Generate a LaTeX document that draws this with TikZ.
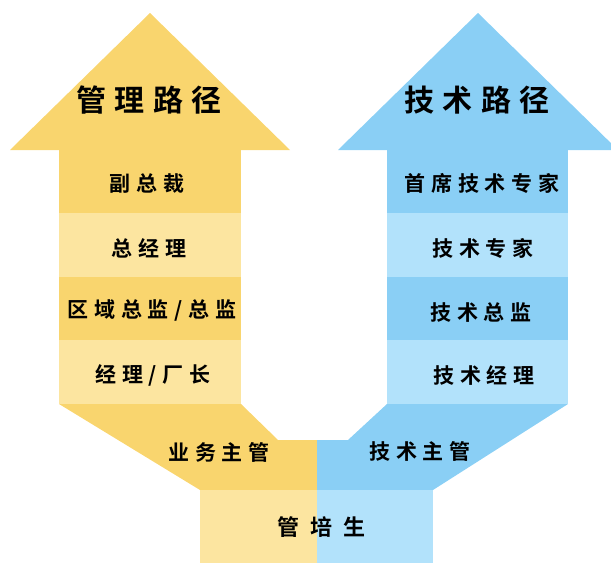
\documentclass[tikz,border=0pt]{standalone}
\usepackage{fontspec}
\newfontfamily\cjk{Noto Sans CJK SC Bold}[LetterSpace=28]
\newfontfamily\cjkwide{Noto Sans CJK SC Bold}[LetterSpace=50]
\definecolor{ydark}{RGB}{249,213,110}
\definecolor{ylight}{RGB}{252,229,160}
\definecolor{bdark}{RGB}{138,207,245}
\definecolor{blight}{RGB}{178,226,251}
\tikzset{
  title/.style={font=\cjk\fontsize{30}{30}\selectfont, inner sep=0pt, anchor=center},
  lbl/.style={font=\cjk\fontsize{21}{21}\selectfont, inner sep=0pt, anchor=center},
  rootlbl/.style={font=\cjkwide\fontsize{22}{22}\selectfont, inner sep=0pt, anchor=center}
}
\begin{document}
\begin{tikzpicture}[x=1pt,y=-1pt]
\useasboundingbox (0,0) rectangle (611,563);
% left (management) arrow
\fill[ydark] (10,150) -- (150,13) -- (290,150) -- cycle;
\fill[ydark] (59,149) rectangle (241,213);
\fill[ylight] (59,213) rectangle (241,277);
\fill[ydark] (59,277) rectangle (241,340);
\fill[ylight] (59,340) rectangle (241,404);
\fill[ydark] (59,404) -- (241,404) -- (278,440) -- (317,440) -- (317,490) -- (200,490) -- cycle;
\fill[ylight] (200,490) rectangle (317,563);
% right (technical) arrow
\fill[bdark] (338,150) -- (478,13) -- (618,150) -- cycle;
\fill[bdark] (387,149) rectangle (568,213);
\fill[blight] (387,213) rectangle (568,277);
\fill[bdark] (387,277) rectangle (568,340);
\fill[blight] (387,340) rectangle (568,404);
\fill[bdark] (387,404) -- (568,404) -- (433,490) -- (317,490) -- (317,440) -- (348,440) -- cycle;
\fill[blight] (317,490) rectangle (433,563);
% texts
\node[title] (mgmt) at (149,100) {管理路径};
\node[title] (tech) at (477,100) {技术路径};
\node[lbl] (m1) at (147,183) {副总裁};
\node[lbl] (m2) at (149,248) {总经理};
\node[lbl] (m3) at (152,310) {区域总监/总监};
\node[lbl] (m4) at (153,375) {经理/厂长};
\node[lbl] (m5) at (219,452) {业务主管};
\node[lbl] (t1) at (482,183) {首席技术专家};
\node[lbl] (t2) at (483,248) {技术专家};
\node[lbl] (t3) at (481,312) {技术总监};
\node[lbl] (t4) at (484,375) {技术经理};
\node[lbl] (t5) at (420,451) {技术主管};
\node[rootlbl] (root) at (321,527) {管培生};
\end{tikzpicture}
\end{document}
